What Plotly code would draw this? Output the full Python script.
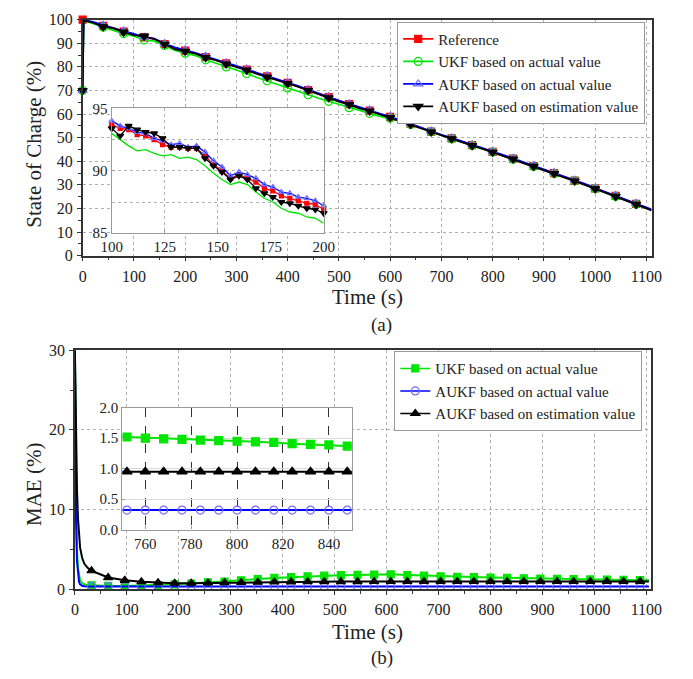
import plotly.graph_objects as go

# ---------------- Panel (a): SOC ----------------
t_a = [0, 2] + list(range(20, 1101, 20)) + [1110]
soc_ref = [100, 99.9, 98.9, 97.4, 96.3, 95.0, 93.7,
           92.5, 91.8, 89.7, 88.0, 86.9,
           85.8, 84.2, 83.0, 81.5, 80.2,
           78.9, 77.3, 76.0, 74.6, 73.2,
           71.8, 70.2, 68.6, 67.2, 65.5,
           64.2, 62.7, 61.5, 60.0, 58.8,
           57.2, 55.8, 54.3, 52.6, 51.0,
           49.7, 48.3, 46.8, 45.5, 44.0,
           42.5, 41.1, 39.5, 38.0, 36.5,
           35.0, 33.4, 31.8, 30.2, 28.5,
           26.9, 25.3, 23.6, 21.9, 20.3,
           19.4]
soc_ukf = [70, 99.6, 98.4, 96.8, 95.5, 94.1, 93.0,
           91.4, 90.9, 89.1, 87.0, 85.8,
           84.8, 83.0, 81.6, 80.0, 78.6,
           77.2, 75.5, 74.1, 72.6, 71.1,
           69.8, 68.2, 66.7, 65.4, 63.9,
           62.7, 61.4, 60.3, 59.0, 58.2,
           57.0, 55.6, 54.1, 52.5, 50.8,
           49.5, 48.1, 46.7, 45.3, 43.9,
           42.3, 40.9, 39.4, 37.8, 36.4,
           34.8, 33.3, 31.7, 30.0, 28.4,
           26.8, 25.1, 23.5, 21.8, 20.1,
           19.3]
soc_aukf_act = [70, 99.9, 99.1, 97.7, 96.5, 95.2, 94.0,
                92.6, 92.0, 89.9, 88.3, 87.2,
                86.0, 84.5, 83.2, 81.8, 80.4,
                79.1, 77.5, 76.2, 74.8, 73.4,
                72.0, 70.4, 68.8, 67.4, 65.7,
                64.4, 62.9, 61.7, 60.2, 59.0,
                57.4, 56.0, 54.5, 52.8, 51.2,
                49.9, 48.5, 47.0, 45.7, 44.2,
                42.7, 41.3, 39.7, 38.2, 36.7,
                35.2, 33.6, 32.0, 30.4, 28.7,
                27.1, 25.5, 23.8, 22.1, 20.5,
                19.6]
soc_aukf_est = [70, 99.7, 98.7, 97.0, 96.4, 94.7, 93.4,
                93.0, 91.8, 89.6, 87.5, 86.6,
                85.6, 83.9, 82.8, 81.2, 80.0,
                78.6, 77.0, 75.7, 74.3, 72.9,
                71.6, 70.0, 68.4, 66.9, 65.3,
                64.0, 62.4, 61.3, 59.8, 58.5,
                57.0, 55.6, 54.1, 52.4, 50.8,
                49.5, 48.1, 46.6, 45.3, 43.8,
                42.3, 40.9, 39.3, 37.8, 36.3,
                34.8, 33.2, 31.6, 30.0, 28.3,
                26.7, 25.1, 23.4, 21.7, 20.1,
                19.2]

# inset (a): 100-200 s
t_ai = list(range(100, 201, 4))
soc_ref_i = [93.7, 93.4, 93.3, 92.9, 92.8, 92.5, 92.1, 91.9, 91.9, 91.8, 91.8, 91.2, 90.5,
             90.0, 89.4, 89.7, 89.4, 89.1, 88.6, 88.4, 88.0, 87.8, 87.6, 87.4, 87.3, 86.9]
soc_ukf_i = [93.0, 92.5, 92.0, 91.6, 91.7, 91.4, 91.2, 91.3, 91.0, 91.1, 90.9, 90.4, 89.8,
             89.3, 88.9, 89.1, 88.9, 88.3, 87.8, 87.5, 87.0, 86.7, 86.6, 86.3, 86.2, 85.8]
soc_aukf_act_i = [94.0, 93.6, 93.4, 93.1, 93.0, 92.6, 92.4, 92.1, 92.2, 91.9, 92.0, 91.5, 90.8,
                  90.3, 89.6, 89.9, 89.7, 89.4, 88.9, 88.7, 88.3, 88.2, 87.9, 87.8, 87.6, 87.2]
soc_aukf_est_i = [93.4, 92.8, 93.6, 93.3, 93.1, 93.0, 92.6, 91.9, 91.9, 91.8, 91.8, 91.0, 90.4,
                  89.9, 89.3, 89.6, 89.3, 88.6, 88.2, 87.9, 87.5, 87.4, 87.2, 87.0, 86.9, 86.6]

# ---------------- Panel (b): MAE ----------------
t_b = [0, 2, 4, 6, 8, 10, 14, 18, 24] + list(range(32, 1089, 32)) + [1105]
mae_ukf = [30, 11, 5, 2.6, 1.6, 1.1, 0.75, 0.6, 0.52,
           0.48, 0.4, 0.4, 0.45, 0.5, 0.6, 0.7, 0.85, 0.95, 1.1,
           1.25, 1.4, 1.5, 1.6, 1.68, 1.74, 1.78, 1.82, 1.85, 1.76,
           1.68, 1.6, 1.54, 1.49, 1.45, 1.41, 1.36, 1.32, 1.28, 1.24,
           1.21, 1.18, 1.15, 1.12,
           1.1]
mae_aukf_act = [30, 9, 3.5, 1.6, 0.9, 0.6, 0.42, 0.36, 0.33,
                0.31, 0.31, 0.31, 0.32, 0.32, 0.32, 0.32, 0.32, 0.32, 0.32,
                0.32, 0.32, 0.32, 0.32, 0.32, 0.32, 0.32, 0.32, 0.32, 0.32,
                0.32, 0.32, 0.32, 0.32, 0.32, 0.32, 0.32, 0.31, 0.31, 0.31,
                0.31, 0.31, 0.31, 0.31,
                0.31]
mae_aukf_est = [30, 19, 12.5, 8.8, 6.6, 5.2, 3.9, 3.2, 2.7,
                2.3, 1.45, 1.1, 0.92, 0.8, 0.74, 0.74, 0.77, 0.8, 0.84,
                0.87, 0.89, 0.91, 0.92, 0.93, 0.94, 0.94, 0.95, 0.95, 0.95,
                0.95, 0.95, 0.95, 0.95, 0.95, 0.95, 0.95, 0.95, 0.95, 0.95,
                0.96, 0.96, 0.96, 0.96,
                0.96]

# inset (b): 750-850 s
t_bi = list(range(744, 857, 8))
mae_ukf_i = [1.53, 1.52, 1.50, 1.49, 1.48, 1.47, 1.46, 1.45, 1.44, 1.43, 1.41, 1.40, 1.39, 1.37, 1.36]
mae_aukf_act_i = [0.32] * 15
mae_aukf_est_i = [0.95] * 15

names_a = ["Reference", "UKF based on actual value", "AUKF based on actual value",
           "AUKF based on estimation value"]
names_b = ["UKF based on actual value", "AUKF based on actual value",
           "AUKF based on estimation value"]

# ---------------- layout geometry (px) ----------------
W, H = 693, 679
FONT = "Liberation Serif"
A_MAIN = dict(x=(74, 661.5), y=(12, 254))
A_INS = dict(x=(104, 323), y=(103, 231))
B_MAIN = dict(x=(66, 661), y=(351, 596))
B_INS = dict(x=(115, 352), y=(410, 535))
RA_X, RA_Y = [0, 1110], [0, 100]
RB_X, RB_Y = [0, 1109], [0, 30]


def dom_x(g):
    return [g["x"][0] / W, g["x"][1] / W]


def dom_y(g):
    return [1 - g["y"][1] / H, 1 - g["y"][0] / H]


def cover(main, ins, rx, ry, xr, yr):
    fx0 = (ins["x"][0] - main["x"][0]) / (main["x"][1] - main["x"][0])
    fx1 = (ins["x"][1] - main["x"][0]) / (main["x"][1] - main["x"][0])
    fy0 = (main["y"][1] - ins["y"][1]) / (main["y"][1] - main["y"][0])
    fy1 = (main["y"][1] - ins["y"][0]) / (main["y"][1] - main["y"][0])
    return dict(type="rect", xref=xr, yref=yr, layer="between",
                x0=rx[0] + fx0 * (rx[1] - rx[0]), x1=rx[0] + fx1 * (rx[1] - rx[0]),
                y0=ry[0] + fy0 * (ry[1] - ry[0]), y1=ry[0] + fy1 * (ry[1] - ry[0]),
                fillcolor="white", line=dict(width=0))


RED, GREEN, BLUE, BLACK = "#ff0000", "#00e600", "#0000ff", "#000000"
LBLUE = "#6f6fff"

fig = go.Figure()


def add_series(x, y, color, symbol, msize, every, xa, ya, lw=1.7, mcolor=None):
    fig.add_trace(go.Scatter(x=x, y=y, mode="lines", line=dict(color=color, width=lw),
                             xaxis=xa, yaxis=ya, showlegend=False, hoverinfo="skip"))
    if msize:
        mx = [xx for xx in x if xx % every == 0]
        my = [yy for xx, yy in zip(x, y) if xx % every == 0]
        fig.add_trace(go.Scatter(x=mx, y=my, mode="markers", xaxis=xa, yaxis=ya,
                                 marker=dict(symbol=symbol, size=msize, color=mcolor or color,
                                             line=dict(width=1.2, color=mcolor or color)),
                                 showlegend=False, hoverinfo="skip", cliponaxis=False))


def add_legend(name, color, symbol, msize, legend, mcolor=None):
    fig.add_trace(go.Scatter(x=[None], y=[None], mode="lines+markers", name=name,
                             line=dict(color=color, width=1.6), legend=legend,
                             marker=dict(symbol=symbol, size=msize, color=mcolor or color,
                                         line=dict(width=1.2, color=mcolor or color))))


# panel a main
series_a = [(soc_ref, RED, "square", 7, None),
            (soc_ukf, GREEN, "circle-open", 8, None),
            (soc_aukf_act, BLUE, "triangle-up-open", 8, LBLUE),
            (soc_aukf_est, BLACK, "triangle-down", 8, None)]
for ys, c, s, m, mc in series_a:
    add_series(t_a, ys, c, s, m, 40, "x", "y", mcolor=mc)

# panel a inset
series_ai = [(soc_ref_i, RED, "square", 4, None),
             (soc_ukf_i, GREEN, None, 0, None),
             (soc_aukf_act_i, BLUE, "triangle-up-open", 5, LBLUE),
             (soc_aukf_est_i, BLACK, "triangle-down", 6, None)]
for ys, c, s, m, mc in series_ai:
    add_series(t_ai, ys, c, s, m, 4, "x2", "y2", lw=1.3, mcolor=mc)

# panel b main
series_b = [(mae_ukf, GREEN, "square", 7, None),
            (mae_aukf_act, BLUE, "circle-open", 8, LBLUE),
            (mae_aukf_est, BLACK, "triangle-up", 8, None)]
for ys, c, s, m, mc in series_b:
    fig.add_trace(go.Scatter(x=t_b, y=ys, mode="lines", line=dict(color=c, width=2),
                             xaxis="x3", yaxis="y3", showlegend=False, hoverinfo="skip"))
    mx = [xx for xx in t_b if xx > 0 and xx % 32 == 0]
    my = [yy for xx, yy in zip(t_b, ys) if xx > 0 and xx % 32 == 0]
    fig.add_trace(go.Scatter(x=mx, y=my, mode="markers", xaxis="x3", yaxis="y3",
                             marker=dict(symbol=s, size=m, color=mc or c,
                                         line=dict(width=1.2, color=mc or c)),
                             showlegend=False, hoverinfo="skip"))

# panel b inset
for ys, c, s, m, mc in [(mae_ukf_i, GREEN, "square", 8, None),
                        (mae_aukf_act_i, BLUE, "circle-open", 8, LBLUE),
                        (mae_aukf_est_i, BLACK, "triangle-up", 9, None)]:
    fig.add_trace(go.Scatter(x=t_bi, y=ys, mode="lines+markers", line=dict(color=c, width=2),
                             marker=dict(symbol=s, size=m, color=mc or c,
                                         line=dict(width=1.2, color=mc or c)),
                             xaxis="x4", yaxis="y4", showlegend=False, hoverinfo="skip"))

# legends
for (ys, c, s, m, mc), n in zip(series_a, names_a):
    add_legend(n, c, s, m, "legend", mc)
for (ys, c, s, m, mc), n in zip(series_b, names_b):
    add_legend(n, c, s, m, "legend2", mc)

tickfont = dict(family=FONT, size=16, color="#222")
small_tf = dict(family=FONT, size=15, color="#222")


def main_axis(dom, rng, dtick, minor, anchor):
    return dict(domain=dom, range=rng, dtick=dtick, tick0=0, anchor=anchor,
                showline=True, mirror=True, linecolor="#333", linewidth=1.5,
                ticks="outside", ticklen=4, tickwidth=1.2, tickcolor="#333",
                minor=dict(dtick=minor, ticks="outside", ticklen=3, tickcolor="#333", showgrid=False),
                showgrid=True, gridcolor="#b0b0b0", griddash="dot", gridwidth=1,
                zeroline=False, tickfont=tickfont, ticklabelstandoff=1)


def inset_axis(dom, rng, anchor, **kw):
    d = dict(domain=dom, range=rng, anchor=anchor, showline=True, mirror=True,
             linecolor="#9a9a9a", linewidth=1.3, ticks="inside", ticklen=3,
             tickcolor="#9a9a9a", zeroline=False, tickfont=small_tf, showgrid=True)
    d.update(kw)
    return d


LEG_FONT = dict(family=FONT, size=15, color="#222")
fig.update_layout(
    width=W, height=H, margin=dict(l=0, r=0, t=0, b=0),
    paper_bgcolor="white", plot_bgcolor="white",
    font=dict(family=FONT, color="#222"),
    xaxis=main_axis(dom_x(A_MAIN), RA_X, 100, 50, "y"),
    yaxis=main_axis(dom_y(A_MAIN), RA_Y, 10, 5, "x"),
    xaxis3=main_axis(dom_x(B_MAIN), RB_X, 100, 50, "y3"),
    yaxis3=main_axis(dom_y(B_MAIN), RB_Y, 10, 5, "x3"),
    xaxis2=inset_axis(dom_x(A_INS), [100, 200], "y2", dtick=25, tick0=100,
                      gridcolor="#b0b0b0", griddash="dot"),
    yaxis2=inset_axis(dom_y(A_INS), [85, 95], "x2", dtick=5, tick0=85,
                      gridcolor="#b0b0b0", griddash="dot",
                      minor=dict(dtick=2.5, showgrid=True, gridcolor="#b0b0b0", griddash="dot")),
    xaxis4=inset_axis(dom_x(B_INS), [750, 850], "y4", dtick=20, tick0=760,
                      gridcolor="#333", griddash="dash", gridwidth=1),
    yaxis4=inset_axis(dom_y(B_INS), [0, 2], "x4", dtick=0.5, tick0=0, tickformat=".1f",
                      gridcolor="#dcdcdc", gridwidth=1),
    legend=dict(x=655 / W, y=1 - 14 / H, xanchor="right", yanchor="top",
                bgcolor="white", bordercolor="#999", borderwidth=1,
                font=LEG_FONT, tracegroupgap=0, itemwidth=30),
    legend2=dict(x=652 / W, y=1 - 352 / H, xanchor="right", yanchor="top",
                 bgcolor="white", bordercolor="#999", borderwidth=1,
                 font=LEG_FONT, tracegroupgap=0, itemwidth=30),
    shapes=[cover(A_MAIN, A_INS, RA_X, RA_Y, "x", "y"),
            cover(B_MAIN, B_INS, RB_X, RB_Y, "x3", "y3")],
    showlegend=True,
)

ann_font = dict(family=FONT, size=21, color="#222")
fig.add_annotation(text="State of Charge (%)", x=24 / W, y=1 - 140 / H, xref="paper", yref="paper",
                   textangle=-90, showarrow=False, font=ann_font, xanchor="center", yanchor="middle")
fig.add_annotation(text="Time (s)", x=368 / W, y=1 - 296 / H, xref="paper", yref="paper",
                   showarrow=False, font=ann_font, xanchor="center", yanchor="middle")
fig.add_annotation(text="(a)", x=383 / W, y=1 - 325 / H, xref="paper", yref="paper",
                   showarrow=False, font=dict(family=FONT, size=19, color="#222"),
                   xanchor="center", yanchor="middle")
fig.add_annotation(text="MAE (%)", x=24 / W, y=1 - 489 / H, xref="paper", yref="paper",
                   textangle=-90, showarrow=False, font=ann_font, xanchor="center", yanchor="middle")
fig.add_annotation(text="Time (s)", x=368 / W, y=1 - 640 / H, xref="paper", yref="paper",
                   showarrow=False, font=ann_font, xanchor="center", yanchor="middle")
fig.add_annotation(text="(b)", x=383 / W, y=1 - 667 / H, xref="paper", yref="paper",
                   showarrow=False, font=dict(family=FONT, size=19, color="#222"),
                   xanchor="center", yanchor="middle")

fig.write_html("out.html")
